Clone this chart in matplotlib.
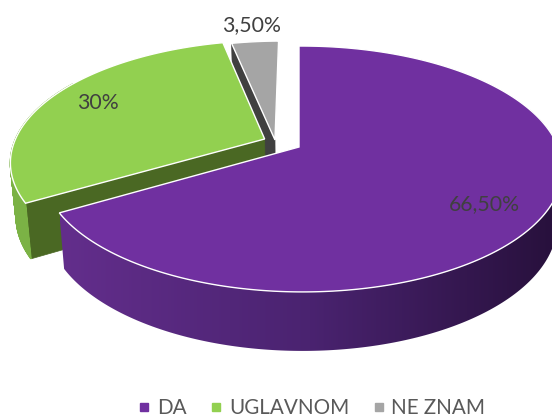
import numpy as np
import matplotlib
matplotlib.use("Agg")
import matplotlib.pyplot as plt
from matplotlib.colors import LinearSegmentedColormap
from matplotlib.lines import Line2D
from matplotlib.patches import Polygon

labels = ["DA", "UGLAVNOM", "NE ZNAM"]
values = [66.5, 30, 3.5]
value_labels = ["66,50%", "30%", "3,50%"]

top_colors = ["#7030A0", "#92D050", "#A5A5A5"]
radial_colors = ["#401C5E", "#4A6823", "#404040"]
wall_colors = ["#602D88", "#7BB245", "#7A7A7A"]
offsets = [(0.0, 0.0), (-0.136, 0.068), (-0.095, 0.06)]
label_pos = [(484, 204), (98, 103), (251, 25)]

CX, CY, A, B, K, KX = 299, 147, 256, 119, 0.1788, 0.012


def project(u, v, bottom=False):
    w = 1 + K * v - KX * u
    x = CX + A * u / w
    y = CY - B * v / w
    if bottom:
        x = CX + (x - CX) * 0.98
        y = y + 59 + 0.0385 * (y - 292)
    return x, y


fig = plt.figure(figsize=(5.52, 4.18), dpi=100)
ax = fig.add_axes([0, 0, 1, 1])

total = sum(values)
edges = np.concatenate([[0], np.cumsum(values)]) / total * 2 * np.pi
cmap = LinearSegmentedColormap.from_list("side", ["#632E8C", "#4A2370", "#27103B"])

# Back-to-front: grey, green, purple
for i in [2, 1, 0]:
    base = (2 - i) * 10
    du, dv = offsets[i]
    t = np.linspace(edges[i], edges[i + 1], 300)
    u = np.sin(t) + du
    v = np.cos(t) + dv
    xt, yt = project(u, v)
    xb, yb = project(u, v, bottom=True)
    ax_, ay_ = project(du, dv)
    bx_, by_ = project(du, dv, bottom=True)

    if i in (1, 2):
        ax.add_patch(Polygon([(ax_, ay_), (xt[0], yt[0]), (xb[0], yb[0]), (bx_, by_)],
                             fc=radial_colors[i], ec=radial_colors[i], lw=0.5, zorder=base + 1))
    keep = v < 0.35 if i != 1 else v < 0.6
    if i == 0:
        wall = np.r_[np.c_[xt[keep], yt[keep]], np.c_[xb[keep], yb[keep]][::-1]]
        patch = Polygon(wall, fc="none", ec="none", zorder=base + 2)
        ax.add_patch(patch)
        im = ax.imshow(np.linspace(0, 1, 256)[None, :], cmap=cmap, aspect="auto",
                       extent=(60, 560, 418, 0), zorder=base + 2, interpolation="bilinear")
        im.set_clip_path(patch)
    else:
        idx = np.where(keep)[0]
        for j in idx[:-1]:
            ax.add_patch(Polygon([(xt[j], yt[j]), (xt[j + 1], yt[j + 1]), (xb[j + 1], yb[j + 1]), (xb[j], yb[j])],
                                 fc=wall_colors[i], ec=wall_colors[i], lw=1.0, zorder=base + 2))
    px = np.r_[ax_, xt]
    py = np.r_[ay_, yt]
    ax.add_patch(Polygon(np.c_[px, py], closed=True, fc=top_colors[i], ec="white", lw=1.0,
                         joinstyle="miter", zorder=base + 3))

ax.set_xlim(0, 552)
ax.set_ylim(418, 0)
ax.axis("off")

for (x, y), s in zip(label_pos, value_labels):
    ax.text(x, y, s, ha="center", va="center", family="Lato", fontsize=15.3, color="#404040", zorder=50)

handles = [Line2D([], [], ls="none", marker="s", ms=5.8, color=c) for c in top_colors]
ax.legend(handles, labels, ncol=3, loc="lower center", bbox_to_anchor=(0.563, 0.0), frameon=False,
          prop={"family": "Lato", "size": 14.9}, labelcolor="#595959", handlelength=0.8,
          handletextpad=0.2, columnspacing=1.05, borderpad=0, borderaxespad=0)

fig.savefig("out.png", dpi=100, facecolor="white")
